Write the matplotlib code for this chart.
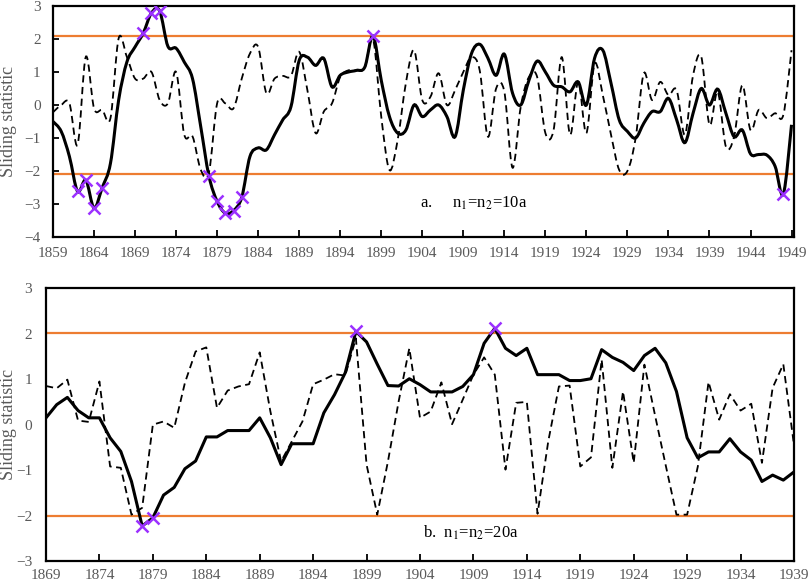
import numpy as np
import matplotlib
matplotlib.use("Agg")
import matplotlib.pyplot as plt
from matplotlib.path import Path
from matplotlib.patches import PathPatch

plt.rcParams['font.family'] = ['Liberation Serif', 'DejaVu Serif']
plt.rcParams['mathtext.fontset'] = 'stix'

# ---------------- data : panel a (n1=n2=10) ----------------
years_a = list(range(1859, 1950))
solid_a = [-0.5, -0.8, -1.56, -2.62, -2.28, -3.12, -2.5, -1.77, 0.15, 1.3,
           1.76, 2.18, 2.79, 2.85, 1.78, 1.72, 1.3, 0.8, -0.65, -2.15,
           -2.92, -3.28, -3.2, -2.8, -1.56, -1.3, -1.36, -0.9, -0.45, -0.05,
           1.35, 1.45, 1.2, 1.41, 0.55, 0.9, 1.0, 1.05, 1.15, 2.09,
           0.75, -0.35, -0.85, -0.76, 0.0, -0.35, -0.15, 0.0, -0.35, -0.96,
           0.45, 1.56, 1.84, 1.42, 0.9, 1.54, 0.36, 0.0, 0.75, 1.33,
           1.0, 0.6, 0.55, 0.4, 0.7, 0.0, 1.42, 1.66, 0.66, -0.45,
           -0.8, -1.0, -0.55, -0.2, -0.2, 0.2, -0.45, -1.14, -0.25, 0.5,
           0.0, 0.48, -0.25, -0.96, -0.76, -1.48, -1.5, -1.52, -1.86, -2.7,
           -0.6]
dash_a = [-0.22, 0.0, 0.05, -1.2, 1.46, -0.1, -0.15, -0.4, 2.02, 1.46,
          0.8, 0.8, 1.0, 0.15, 0.05, 1.0, -0.9, -0.95, -1.96, -2.05,
          0.05, 0.05, -0.1, 0.8, 1.56, 1.76, 0.36, 0.8, 0.88, 0.88,
          1.61, 0.45, -0.85, -0.2, 0.05, 0.85, 1.05, 1.05, 1.15, 2.0,
          -0.35, -1.97, -1.06, 0.66, 1.66, 0.15, 0.25, 0.96, 0.0, 0.45,
          1.0, 1.45, 1.05, -0.96, 0.5, 0.4, -1.9, -0.05, 0.85, 0.85,
          -0.85, -0.76, 1.45, -0.9, 0.7, -0.85, 1.25, 0.3, -0.9, -1.97,
          -2.0, -1.0, 0.96, 0.15, 0.7, 0.3, 0.45, -0.9, 0.9, 1.46,
          -0.6, 0.4, -1.26, -0.96, 0.6, -0.76, -0.15, -0.4, -0.25, -0.3,
          1.66]
marked_a = [1862, 1863, 1864, 1865, 1870, 1871, 1872, 1878, 1879, 1880,
            1881, 1882, 1898, 1948]
crit_a = 2.10
ticks_a = list(range(1859, 1950, 5))
yticks_a = [-4, -3, -2, -1, 0, 1, 2, 3]

# ---------------- data : panel b (n1=n2=20) ----------------
years_b = list(range(1869, 1940))
solid_b = [0.15, 0.44, 0.6, 0.31, 0.15, 0.15, -0.29, -0.59, -1.25, -2.23,
           -2.05, -1.55, -1.38, -0.97, -0.8, -0.27, -0.27, -0.13, -0.13, -0.13,
           0.15, -0.29, -0.88, -0.42, -0.42, -0.42, 0.26, 0.66, 1.14, 2.05,
           1.82, 1.33, 0.86, 0.85, 1.01, 0.88, 0.72, 0.72, 0.72, 0.84,
           1.1, 1.79, 2.12, 1.68, 1.52, 1.68, 1.1, 1.1, 1.1, 0.97,
           0.97, 1.01, 1.65, 1.48, 1.37, 1.19, 1.52, 1.68, 1.36, 0.73,
           -0.29, -0.73, -0.6, -0.6, -0.31, -0.6, -0.78, -1.25, -1.11, -1.22,
           -1.04]
dash_b = [0.85, 0.8, 0.99, 0.09, 0.06, 0.95, -0.92, -0.95, -1.98, -1.83,
          0.0, 0.07, -0.07, 0.92, 1.61, 1.7, 0.37, 0.75, 0.84, 0.89,
          1.59, 0.29, -0.81, -0.37, 0.07, 0.89, 0.99, 1.11, 1.08, 1.9,
          -0.88, -1.98, -0.81, 0.51, 1.68, 0.15, 0.29, 0.93, 0.01, 0.55,
          1.1, 1.48, 1.1, -0.99, 0.48, 0.5, -1.96, -0.37, 0.84, 0.86,
          -0.92, -0.72, 1.43, -0.95, 0.73, -0.84, 1.32, 0.2, -0.9, -1.98,
          -1.98, -0.92, 0.94, 0.11, 0.67, 0.31, 0.46, -0.84, 0.81, 1.33,
          -0.45]
marked_b = [1878, 1879, 1898, 1911]
crit_b = 2.01
ticks_b = list(range(1869, 1940, 5))
yticks_b = [-3, -2, -1, 0, 1, 2, 3]

ORANGE = '#ED7D31'
PURPLE = '#9B30FF'
GREY = '#595959'


def smooth_path(x, y):
    """Excel-style smoothed line: cubic Bezier through every data point."""
    x = np.asarray(x, float)
    y = np.asarray(y, float)
    n = len(x)
    verts = [(x[0], y[0])]
    codes = [Path.MOVETO]
    for i in range(n - 1):
        x0, y0 = (x[i - 1], y[i - 1]) if i > 0 else (x[i], y[i])
        x3, y3 = (x[i + 2], y[i + 2]) if i + 2 < n else (x[i + 1], y[i + 1])
        c1 = (x[i] + (x[i + 1] - x0) / 6.0, y[i] + (y[i + 1] - y0) / 6.0)
        c2 = (x[i + 1] - (x3 - x[i]) / 6.0, y[i + 1] - (y3 - y[i]) / 6.0)
        verts += [c1, c2, (x[i + 1], y[i + 1])]
        codes += [Path.CURVE4] * 3
    return Path(verts, codes)


fig = plt.figure(figsize=(8.09, 5.84), dpi=100)

# ---------------- panel a ----------------
ax1 = fig.add_axes([53 / 809, 1 - 237 / 584, 741 / 809, 231 / 584])
ax1.axhline(crit_a, color=ORANGE, lw=1.6, zorder=1)
ax1.axhline(-crit_a, color=ORANGE, lw=1.6, zorder=1)
ax1.add_patch(PathPatch(smooth_path(years_a, dash_a), fill=False, color='black',
                        lw=1.3, linestyle=(0, (4, 2.5)), zorder=2))
ax1.add_patch(PathPatch(smooth_path(years_a, solid_a), fill=False, color='black',
                        lw=2.2, zorder=3))
mx = [y for y in marked_a]
my = [solid_a[years_a.index(y)] for y in marked_a]
ax1.plot(mx, my, linestyle='none', marker='x', color=PURPLE, ms=9, mew=1.8, zorder=4)
ax1.set_xlim(1859, 1949.3)
ax1.set_ylim(-4, 3)
ax1.set_xticks(ticks_a)
ax1.set_yticks(yticks_a)
ax1.tick_params(axis='x', direction='in', length=5, width=1.3, pad=7,
                labelsize=11, labelcolor=GREY)
ax1.tick_params(axis='y', direction='in', length=4, width=1.3, pad=9,
                labelsize=11, labelcolor=GREY)
for s in ax1.spines.values():
    s.set_linewidth(1.6)
ax1.set_ylabel('Sliding statistic', fontsize=13, color=GREY)
ax1.yaxis.set_label_coords(-0.049, 0.5)
ax1.text(0.495, 0.147, r'a.     n$_1$=n$_2$=10a', transform=ax1.transAxes,
         fontsize=12, ha='left', va='center', color='black')

# ---------------- panel b ----------------
ax2 = fig.add_axes([46 / 809, 1 - 561 / 584, 748 / 809, 272.7 / 584])
ax2.axhline(crit_b, color=ORANGE, lw=1.6, zorder=1)
ax2.axhline(-crit_b, color=ORANGE, lw=1.6, zorder=1)
ax2.plot(years_b, dash_b, color='black', lw=1.3, linestyle=(0, (4, 2.5)), zorder=2)
ax2.plot(years_b, solid_b, color='black', lw=2.2, zorder=3)
mx = [y for y in marked_b]
my = [solid_b[years_b.index(y)] for y in marked_b]
ax2.plot(mx, my, linestyle='none', marker='x', color=PURPLE, ms=9, mew=1.8, zorder=4)
ax2.set_xlim(1869, 1939)
ax2.set_ylim(-3, 3)
ax2.set_xticks(ticks_b)
ax2.set_yticks(yticks_b)
ax2.tick_params(axis='x', direction='in', length=5, width=1.3, pad=6,
                labelsize=11, labelcolor=GREY)
ax2.tick_params(axis='y', direction='in', length=0, pad=10,
                labelsize=11, labelcolor=GREY)
for s in ax2.spines.values():
    s.set_linewidth(1.6)
ax2.set_ylabel('Sliding statistic', fontsize=13, color=GREY)
ax2.yaxis.set_label_coords(-0.039, 0.5)
ax2.text(0.504, 0.103, r'b.  n$_1$=n$_2$=20a', transform=ax2.transAxes,
         fontsize=12, ha='left', va='center', color='black')

fig.savefig('out.png', dpi=100)
